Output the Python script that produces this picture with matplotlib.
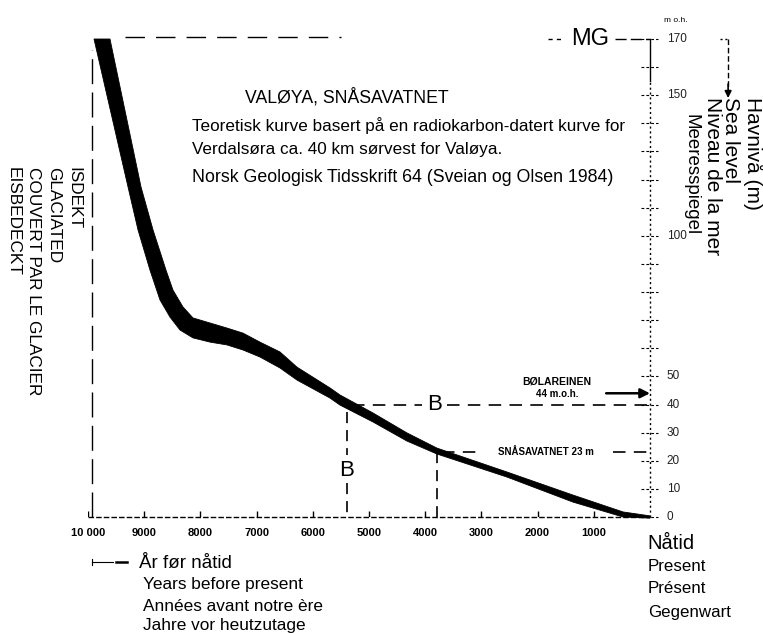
import matplotlib
matplotlib.use("Agg")
import matplotlib.pyplot as plt

plt.rcParams['font.family'] = ['Liberation Sans', 'DejaVu Sans']
plt.rcParams['lines.scale_dashes'] = False

# sea-level band, upper/right edge (years BP, m a.s.l.)
edge_hi_yr = [9609, 9057, 8843, 8612, 8488, 8310, 8132, 7829, 7527, 7242, 6940,
              6584, 6281, 5694, 5516, 4929, 4324, 3790, 2544, 1370, 480, 0]
edge_hi_m = [170.0, 117.4, 102.1, 87.8, 80.7, 74.7, 70.8, 69.0, 67.2, 65.4, 62.2,
             58.7, 53.3, 45.9, 43.4, 37.0, 29.9, 24.5, 16.0, 7.8, 1.8, 0.4]
# lower/left edge
edge_lo_yr = [9893, 9288, 9110, 8897, 8719, 8541, 8363, 8132, 7829, 7527, 7242,
              6940, 6584, 6281, 5694, 5516, 4929, 4324, 3790, 2544, 1370, 480, 0]
edge_lo_m = [170.0, 117.4, 102.1, 87.8, 77.2, 71.1, 66.5, 63.7, 62.2, 61.2, 59.4,
             56.9, 53.0, 48.7, 42.3, 39.8, 33.8, 27.0, 22.4, 14.2, 5.3, 0.0, -0.4]

x_ticks = [10000, 9000, 8000, 7000, 6000, 5000, 4000, 3000, 2000, 1000]
x_tick_labels = ["10 000", "9000", "8000", "7000", "6000", "5000", "4000",
                 "3000", "2000", "1000"]
y_tick_levels = list(range(0, 171, 10))
y_tick_labels = [170, 150, 100, 50, 40, 30, 20, 10, 0]

left_label = ["ISDEKT", "GLACIATED", "COUVERT PAR LE GLACIER", "EISBEDECKT"]
right_label = ["Havnivå (m)", "Sea level", "Niveau de la mer", "Meeresspiegel"]

mg_level = 170          # marine limit
ice_year = 9930         # glaciated before this
b_year, b_level = 5400, 40
bolar_level = 44
snasa_year, snasa_level = 3790, 23

W, H = 763, 633
fig = plt.figure(figsize=(W / 100, H / 100), dpi=100)
ax = fig.add_axes([88 / W, 116 / H, 562 / W, 478 / H])
ax.set_xlim(10000, 0)
ax.set_ylim(0, 170)
ax.axis("off")


def fpos(x, y):
    return x / W, 1 - y / H


k = "black"
dash = (0, (9, 6))

# band
poly_x = edge_hi_yr + edge_lo_yr[::-1]
poly_y = edge_hi_m + edge_lo_m[::-1]
ax.fill(poly_x, poly_y, color=k, lw=0.6, clip_on=False)

# axis lines and ticks
ax.plot([10000, 0], [0, 0], color=k, lw=1.0, ls=(0, (4, 1.5)), clip_on=False)
ax.vlines(x_ticks, 0, 2, color=k, lw=1.0)
ax.plot([0, 0], [0, 155], color=k, lw=1.0, ls=(0, (1.5, 2)), clip_on=False)
ax.plot([0, 0], [155, 170], color=k, lw=1.0, clip_on=False)
for lv in y_tick_levels:
    ax.plot([160, -140], [lv, lv], color=k, lw=0.8, ls=(0, (2, 1.5)), clip_on=False)
for lv in y_tick_labels:
    ax.text(-300, lv, str(lv), fontsize=8.5, va="center", ha="left", color="#222222")
ax.text(-460, 176.5, "m o.h.", fontsize=6, ha="center", va="center")

for t, lab in zip(x_ticks, x_tick_labels):
    ax.text(t, -5.7, lab, fontsize=8, fontweight="bold", ha="center", va="center")

# glaciated limit and marine limit
ax.plot([ice_year, ice_year], [0, 166], color=k, lw=1.0, ls=(0, (18, 6)), clip_on=False)
ax.plot([9350, 5500], [mg_level + 0.7, mg_level + 0.7], color=k, lw=1.0,
        ls=(0, (14, 8)), clip_on=False)
ax.plot([1815, 1550], [mg_level, mg_level], color=k, lw=1.0, ls=(0, (3, 3)), clip_on=False)
ax.plot([620, 0], [mg_level, mg_level], color=k, lw=1.0, ls=(0, (8, 3)), clip_on=False)
ax.text(1070, mg_level, "MG", fontsize=17, ha="center", va="center")

# B lines
ax.plot([5300, 4060], [b_level, b_level], color=k, lw=1.2, ls=dash, clip_on=False)
ax.plot([3620, 0], [b_level, b_level], color=k, lw=1.2, ls=dash, clip_on=False)
ax.text(3840, b_level, "B", fontsize=16, ha="center", va="center")
ax.plot([b_year, b_year], [37.5, 22], color=k, lw=1.2, ls=(0, (8, 5)), clip_on=False)
ax.plot([b_year, b_year], [12, 0], color=k, lw=1.2, ls=(0, (8, 5)), clip_on=False)
ax.text(b_year, 16.7, "B", fontsize=16, ha="center", va="center")

# Snasavatnet
ax.plot([3700, 3000], [snasa_level, snasa_level], color=k, lw=1.2, ls=dash, clip_on=False)
ax.plot([650, 50], [snasa_level, snasa_level], color=k, lw=1.2, ls=dash, clip_on=False)
ax.text(1860, snasa_level, "SNÅSAVATNET 23 m", fontsize=7, fontweight="bold",
        ha="center", va="center")
ax.plot([snasa_year, snasa_year], [snasa_level, 0], color=k, lw=1.2, ls=(0, (8, 5)),
        clip_on=False)

# Bolareinen
ax.text(1655, 48.3, "BØLAREINEN", fontsize=7.5, fontweight="bold", ha="center", va="center")
ax.text(1655, 43.6, "44 m.o.h.", fontsize=7, fontweight="bold", ha="center", va="center")
ax.annotate("", xy=(0, bolar_level), xytext=(780, bolar_level),
            arrowprops=dict(arrowstyle="-|>", lw=1.8, color=k, mutation_scale=14,
                            shrinkA=0, shrinkB=0))

# descriptive text
ax.text(7206, 147.5, "VALØYA, SNÅSAVATNET", fontsize=12.7, ha="left", va="baseline")
ax.text(8150, 137.2, "Teoretisk kurve basert på en radiokarbon-datert kurve for",
        fontsize=12.3, ha="left", va="baseline")
ax.text(8150, 129.0, "Verdalsøra ca. 40 km sørvest for Valøya.",
        fontsize=12.3, ha="left", va="baseline")
ax.text(8150, 119.0, "Norsk Geologisk Tidsskrift 64 (Sveian og Olsen 1984)",
        fontsize=12.8, ha="left", va="baseline")

# left rotated label: one column per line, baseline on the left of the caps
for bx, s in zip([69, 49, 29, 9], left_label):
    fig.text(*fpos(bx, 167), s, rotation=-90, rotation_mode="anchor",
             ha="left", va="baseline", fontsize=12.4)

# right rotated label + arrow
for (bx, ty, fs), s in zip([(747, 97, 15), (725, 97, 15), (707, 97, 15),
                            (687, 114, 13.5)], right_label):
    fig.text(*fpos(bx, ty), s, rotation=-90, rotation_mode="anchor",
             ha="left", va="baseline", fontsize=fs)
ax.plot([-1240, -1390], [170, 170], color=k, lw=1.0, ls=(0, (1.5, 2)), clip_on=False)
ax.plot([-1390, -1390], [170, 152], color=k, lw=1.0, ls=(0, (4, 2)), clip_on=False)
ax.annotate("", xy=(-1390, 149), xytext=(-1390, 154),
            arrowprops=dict(arrowstyle="-|>", lw=1.2, color=k, mutation_scale=10,
                            shrinkA=0, shrinkB=0), annotation_clip=False)

# bottom-left legend text
ax.plot([ice_year, 9560], [-16, -16], color=k, lw=0.8, clip_on=False)
ax.plot([9500, 9300], [-16, -16], color=k, lw=1.8, clip_on=False)
ax.plot([ice_year, ice_year], [-15, -17], color=k, lw=0.8, clip_on=False)
fig.text(*fpos(139, 568), "År før nåtid", fontsize=13.5, ha="left", va="baseline")
for yy, s in [(589, "Years before present"), (611, "Années avant notre ère"),
              (630, "Jahre vor heutzutage")]:
    fig.text(*fpos(143, yy), s, fontsize=12.4, ha="left", va="baseline")

# bottom-right text
fig.text(*fpos(647, 549), "Nåtid", fontsize=14.5, ha="left", va="baseline")
for yy, s in [(571, "Present"), (593, "Présent"), (617, "Gegenwart")]:
    fig.text(*fpos(648, yy), s, fontsize=12.2, ha="left", va="baseline")

fig.savefig("out.png", dpi=100, facecolor="white")
